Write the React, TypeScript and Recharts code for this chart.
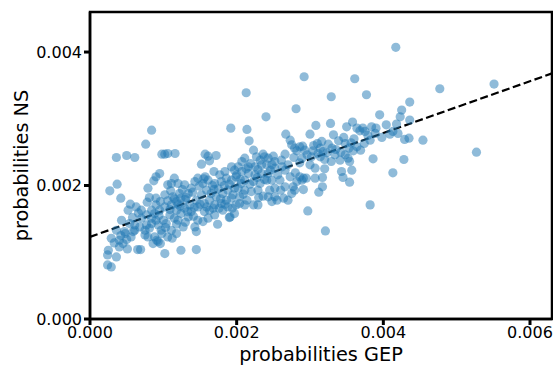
import React from "react";
import { ScatterChart, Scatter, XAxis, YAxis, ReferenceLine, ReferenceArea } from "recharts";

// probabilities, in units of 1e-4: [GEP, NS]
const points: [number, number][] = [
  [41.7, 40.7], [55.1, 35.2], [47.7, 34.5], [43.6, 32.5], [42.5, 31.3], [42.3, 30.3], [43.6, 29.8],
  [39.5, 30.6], [40.4, 29.1], [41.8, 29.2], [40.9, 27.7], [41.3, 28.1], [42.0, 27.8], [39.8, 27.2],
  [42.9, 26.9], [43.5, 27.1], [45.4, 26.8], [52.7, 25.0], [42.8, 23.9], [41.3, 21.9], [29.2, 36.3],
  [36.1, 36.0], [32.9, 33.3], [37.7, 33.6], [28.1, 31.5], [30.8, 29.0], [32.8, 29.3], [35.8, 29.5],
  [35.0, 28.8], [38.4, 28.8], [37.2, 28.6], [36.4, 28.6], [21.3, 33.9], [24.0, 30.3], [8.4, 28.3],
  [19.2, 28.6], [21.4, 28.4],
  [21.7, 26.7], [26.7, 27.7], [30.0, 27.7], [33.2, 27.6], [36.8, 28.2], [37.5, 28.1], [27.3, 26.8],
  [31.0, 26.3], [31.6, 26.6], [32.5, 26.2], [33.9, 26.7], [34.8, 26.3], [35.3, 25.6], [36.4, 25.8],
  [37.4, 26.3], [38.2, 26.8], [35.9, 25.2], [34.8, 24.6], [36.9, 25.3], [38.6, 24.0], [31.8, 25.1],
  [31.4, 24.3], [30.4, 25.2], [32.9, 23.6], [32.0, 23.9], [35.2, 24.1], [35.4, 23.6], [35.7, 22.3],
  [34.3, 22.1], [34.5, 21.2], [35.4, 20.5], [32.0, 22.5], [31.7, 21.2], [31.2, 19.0], [31.7, 19.8],
  [29.7, 16.2], [38.2, 17.1], [32.1, 13.2], [26.6, 24.7], [27.9, 25.6], [28.6, 25.8], [29.3, 25.3],
  [27.5, 26.1], [28.2, 25.2], [28.9, 24.1], [30.2, 24.3], [30.0, 23.1], [30.7, 22.6], [29.5, 21.1],
  [29.1, 21.1], [28.6, 21.3], [28.2, 20.6], [27.7, 19.8], [29.1, 19.4], [27.9, 19.3], [27.5, 18.8],
  [27.0, 17.8], [28.9, 20.8], [30.7, 21.1], [27.0, 23.1], [26.6, 22.3], [26.1, 23.8], [25.2, 23.6],
  [24.8, 23.1], [24.3, 24.1], [23.8, 24.3], [23.2, 23.8], [22.7, 24.3], [22.3, 25.3], [21.1, 24.1],
  [20.7, 23.6], [20.2, 22.8], [21.6, 22.8], [22.5, 22.8], [23.4, 23.1], [24.1, 23.1], [25.2, 22.6],
  [24.3, 21.8], [23.4, 21.8], [22.5, 21.6], [21.6, 21.8], [20.7, 22.1], [20.0, 21.6], [21.1, 20.8],
  [22.3, 20.6], [23.2, 20.3], [24.1, 20.8], [24.8, 20.8], [25.2, 19.6], [24.5, 19.3], [24.3, 18.3],
  [25.2, 18.3], [25.5, 17.8], [24.8, 17.6], [22.9, 19.3], [22.0, 19.1], [21.1, 19.3], [20.2, 19.6],
  [20.4, 18.3], [21.4, 17.8], [22.3, 17.1], [23.6, 18.4], [22.9, 17.1], [20.4, 17.3], [27.3, 21.3],
  [26.6, 19.8], [25.9, 20.8], [31.4, 25.6], [33.4, 24.6], [34.1, 23.8], [19.1, 15.3], [19.4, 16.6],
  [21.1, 17.1],
  [7.6, 26.2], [3.6, 24.2], [5.0, 24.5], [6.1, 24.2], [9.8, 24.7], [10.6, 24.8], [11.6, 24.8],
  [10.2, 24.7], [15.7, 24.7], [16.1, 24.4], [17.2, 24.5], [15.2, 23.2], [16.3, 23.7], [16.9, 22.1],
  [15.7, 21.3], [19.3, 22.8], [19.7, 22.3], [9.5, 21.8], [9.0, 21.3], [8.7, 20.7], [3.7, 20.2],
  [2.7, 19.2], [4.2, 18.1], [7.9, 19.6], [8.1, 18.2], [5.5, 17.2], [6.3, 16.8], [7.8, 17.5],
  [9.0, 18.1], [10.6, 20.1], [11.0, 19.2], [12.0, 20.3], [12.9, 20.1], [12.2, 18.8], [11.3, 18.3],
  [10.6, 17.7], [9.6, 17.6], [9.0, 17.1], [8.4, 16.3], [7.7, 15.6], [8.8, 15.8], [9.5, 16.3],
  [10.2, 16.8], [11.1, 17.1], [11.8, 17.6], [12.4, 18.1], [13.4, 18.8], [13.8, 19.6], [14.3, 20.6],
  [14.7, 21.1], [15.4, 20.3], [16.1, 20.8], [17.0, 20.3], [17.9, 20.6], [18.6, 21.1], [19.3, 20.8],
  [19.9, 21.3], [18.4, 22.1], [17.7, 21.6], [19.7, 19.6], [18.8, 19.3], [18.1, 18.8], [17.2, 18.3],
  [16.5, 18.8], [15.9, 19.3], [15.2, 18.6], [14.5, 17.8], [14.7, 16.8], [15.6, 17.3], [16.3, 17.8],
  [17.0, 17.1], [17.9, 17.3], [18.6, 17.8], [19.3, 18.1], [18.8, 16.8], [19.9, 17.1], [19.7, 15.8],
  [19.0, 15.2], [17.4, 14.2], [14.7, 14.8], [14.3, 13.8], [13.4, 15.3], [12.4, 15.8], [11.8, 16.3],
  [11.5, 15.1], [11.1, 13.3], [11.8, 12.8], [10.6, 12.3], [9.7, 13.3], [8.8, 12.3], [9.3, 11.6],
  [8.6, 11.3], [7.9, 12.3], [7.5, 13.3], [7.7, 14.1], [8.4, 14.3], [9.3, 14.1], [10.0, 14.8],
  [9.0, 14.8], [7.0, 15.1], [6.1, 14.1], [6.1, 13.3], [5.4, 14.3], [4.7, 13.1], [4.3, 14.8],
  [3.6, 13.3], [4.0, 11.8], [2.9, 12.1], [4.5, 11.3], [4.0, 10.8], [5.1, 10.5], [2.5, 10.3],
  [2.4, 9.6], [3.6, 9.3], [2.4, 8.1], [2.9, 7.8], [6.5, 10.4], [6.9, 10.4], [10.2, 9.8],
  [12.4, 10.3], [14.5, 10.4], [9.6, 11.3], [5.6, 12.3], [12.7, 13.8], [12.0, 14.8], [10.4, 14.3],
  [10.9, 15.6], [8.4, 15.1], [7.0, 16.3], [5.2, 16.3], [12.9, 16.6], [13.6, 17.1], [13.8, 16.1],
  [15.6, 16.1], [16.3, 16.3], [18.1, 16.3], [17.0, 15.6], [16.1, 15.1], [15.4, 14.6], [11.1, 20.3],
  [11.5, 21.1], [10.2, 18.6], [14.5, 13.1], [9.8, 12.8], [7.5, 12.6], [9.1, 11.8], [11.2, 12.1],
  [4.8, 12.8], [5.9, 13.1],
  [12.6, 19.4], [13.1, 18.2], [14.0, 19.0], [14.9, 19.9], [15.5, 21.0], [16.7, 20.0], [17.5, 19.5],
  [18.3, 20.0], [19.0, 20.2], [16.9, 19.4], [15.0, 17.2], [13.0, 17.9], [12.0, 17.2], [11.5, 18.0],
  [10.9, 16.4], [13.3, 16.1], [14.1, 15.4], [15.9, 16.8], [17.6, 16.6], [18.4, 17.2], [19.5, 18.6],
  [20.6, 20.3], [21.8, 20.2], [22.8, 21.2], [23.8, 20.9], [21.3, 22.5], [22.9, 22.4], [24.6, 22.3],
  [25.6, 21.6], [26.2, 22.8], [20.5, 20.9], [21.9, 23.3], [23.6, 24.7], [25.0, 24.4], [27.8, 24.2],
  [28.6, 23.4], [29.6, 24.6], [31.1, 24.8], [32.3, 24.9], [33.5, 25.4], [34.2, 25.0], [35.6, 26.4],
  [33.0, 25.6], [30.5, 26.0], [29.0, 25.9], [36.0, 27.0], [37.9, 27.5], [38.9, 27.8], [39.0, 28.6],
  [34.6, 27.2], [6.8, 13.8], [8.1, 13.6], [10.3, 13.7], [9.4, 15.5], [6.6, 15.9], [5.8, 15.2],
  [4.2, 12.5], [3.3, 11.4], [5.0, 11.9], [13.0, 14.5], [11.8, 14.2], [16.8, 16.6], [12.3, 16.9],
  [14.2, 16.7], [17.8, 18.0], [20.9, 18.7], [23.0, 18.2], [26.0, 19.3], [26.4, 18.1], [28.0, 21.9],
];

// dashed regression line end points (1e-4 units)
const fitX = [0, 63];
const fitY = [12.3, 36.8];

const xTicks = [0, 0.002, 0.004, 0.006];
const yTicks = [0, 0.002, 0.004];

const data = points.map(([g, n]) => ({ x: g * 1e-4, y: n * 1e-4 }));

const Dot = (props: any) => (
  <circle cx={props.cx} cy={props.cy} r={4.6} fill="#1f77b4" fillOpacity={0.5} />
);

const font = "DejaVu Sans, sans-serif";

export default function App() {
  return (
    <div style={{ position: "absolute", left: 0, top: 0 }}>
      <ScatterChart width={553} height={365} margin={{ top: 12, right: 1, bottom: 0, left: 0 }}>
        <XAxis
          type="number"
          dataKey="x"
          domain={[0, 0.0063]}
          ticks={xTicks}
          tickFormatter={(v: number) => v.toFixed(3)}
          height={46}
          tickSize={6}
          tickMargin={2}
          axisLine={{ stroke: "#000", strokeWidth: 2.5 }}
          tickLine={{ stroke: "#000", strokeWidth: 3 }}
          tick={{ fill: "#000", fontSize: 16, fontFamily: font }}
          label={{ value: "probabilities GEP", position: "insideBottom", offset: 4, fill: "#000", fontSize: 19.3, fontFamily: font }}
        />
        <YAxis
          type="number"
          dataKey="y"
          domain={[0, 0.0046]}
          ticks={yTicks}
          tickFormatter={(v: number) => v.toFixed(3)}
          width={90}
          tickSize={6}
          tickMargin={2}
          axisLine={{ stroke: "#000", strokeWidth: 2.5 }}
          tickLine={{ stroke: "#000", strokeWidth: 3 }}
          tick={{ fill: "#000", fontSize: 16, fontFamily: font }}
          label={{ value: "probabilities NS", angle: -90, position: "insideLeft", offset: 21, fill: "#000", fontSize: 19.3, fontFamily: font, style: { textAnchor: "middle" } }}
        />
        <ReferenceArea
          x1={0}
          x2={0.0063}
          y1={0}
          y2={0.0046}
          ifOverflow="visible"
          fill="none"
          fillOpacity={0}
          stroke="#000"
          strokeWidth={2.5}
        />
        <Scatter data={data} shape={Dot} isAnimationActive={false} />
        <ReferenceLine
          segment={[
            { x: fitX[0] * 1e-4, y: fitY[0] * 1e-4 },
            { x: fitX[1] * 1e-4, y: fitY[1] * 1e-4 },
          ]}
          stroke="#000"
          strokeWidth={2.2}
          strokeDasharray="8 3.5"
        />
      </ScatterChart>
    </div>
  );
}
